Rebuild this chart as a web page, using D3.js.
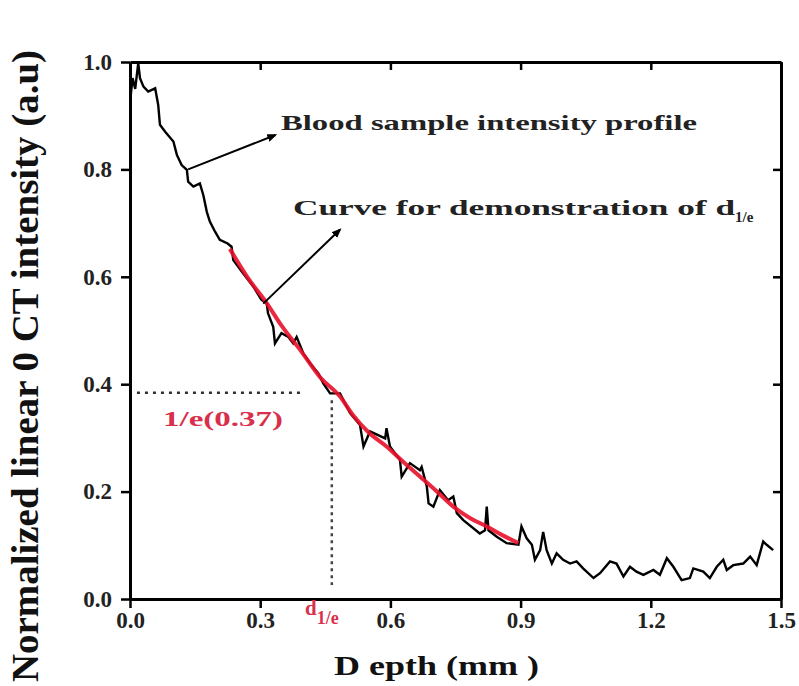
<!DOCTYPE html>
<html>
<head>
<meta charset="utf-8">
<script src="https://cdn.jsdelivr.net/npm/d3@7"></script>
<style>
  html, body { margin: 0; padding: 0; background: #fff; }
  svg { display: block; }
  text { font-family: "Liberation Serif", "Times New Roman", serif; font-weight: bold; }
</style>
</head>
<body>
<svg id="chart" width="799" height="686"></svg>
<script>
// ---- data ----
const profileDepth = [0.002,0.006,0.012,0.019,0.023,0.031,0.042,0.058,0.065,0.069,0.081,0.100,0.108,0.119,0.131,0.134,0.146,0.161,0.169,0.177,0.184,0.196,0.207,0.225,0.234,0.238,0.261,0.284,0.303,0.315,0.318,0.330,0.334,0.349,0.365,0.376,0.384,0.399,0.415,0.434,0.445,0.461,0.484,0.507,0.530,0.538,0.553,0.588,0.591,0.599,0.622,0.626,0.645,0.668,0.672,0.684,0.688,0.699,0.714,0.733,0.745,0.753,0.768,0.806,0.818,0.822,0.826,0.845,0.868,0.895,0.902,0.914,0.926,0.933,0.945,0.952,0.960,0.972,0.983,0.998,1.014,1.029,1.044,1.068,1.083,1.106,1.121,1.137,1.152,1.167,1.183,1.206,1.221,1.237,1.252,1.271,1.290,1.298,1.321,1.336,1.352,1.367,1.375,1.390,1.413,1.429,1.444,1.459,1.467,1.482];
const profileIntensity = [0.940,0.970,0.950,0.998,0.970,0.954,0.945,0.951,0.920,0.883,0.870,0.852,0.827,0.808,0.799,0.777,0.768,0.774,0.752,0.721,0.703,0.684,0.669,0.662,0.656,0.631,0.606,0.582,0.557,0.551,0.532,0.507,0.476,0.495,0.488,0.476,0.488,0.458,0.439,0.420,0.402,0.383,0.383,0.346,0.324,0.284,0.312,0.299,0.318,0.284,0.259,0.228,0.253,0.240,0.246,0.209,0.178,0.172,0.203,0.184,0.191,0.160,0.147,0.122,0.128,0.172,0.128,0.116,0.104,0.101,0.135,0.113,0.101,0.073,0.091,0.125,0.091,0.066,0.085,0.073,0.066,0.070,0.057,0.039,0.048,0.070,0.066,0.042,0.060,0.051,0.045,0.054,0.045,0.076,0.060,0.035,0.039,0.057,0.051,0.039,0.060,0.073,0.054,0.063,0.066,0.079,0.063,0.107,0.101,0.091];

const fitDepth = [0.230,0.270,0.315,0.350,0.392,0.438,0.484,0.514,0.550,0.591,0.630,0.668,0.710,0.745,0.785,0.822,0.860,0.895];
const fitIntensity = [0.652,0.600,0.551,0.508,0.464,0.413,0.377,0.342,0.310,0.284,0.255,0.228,0.198,0.172,0.150,0.135,0.118,0.104];

const xTicks = [0.0, 0.3, 0.6, 0.9, 1.2, 1.5];
const yTicks = [0.0, 0.2, 0.4, 0.6, 0.8, 1.0];

const markerY = 0.384;          // level of the 1/e dotted line
const markerX = 0.465;          // d_1/e depth
const hLineX = [0.016, 0.40];   // extent of horizontal dotted line
const vLineY = [0.026, 0.37];   // extent of vertical dotted line

// ---- layout ----
const svg = d3.select("#chart");
const L = 130, R = 781, T = 62, B = 599;
const x = d3.scaleLinear().domain([0, 1.5]).range([L, R]);
const y = d3.scaleLinear().domain([0, 1.0]).range([B, T]);
const fmt = d3.format(".1f");

// axes
const axisStyle = g => {
  g.select(".domain").attr("stroke", "#000").attr("stroke-width", 3);
  g.selectAll(".tick line").attr("stroke", "#000").attr("stroke-width", 2.5);
};
svg.append("g").attr("transform", `translate(0,${B})`)
  .call(d3.axisBottom(x).tickValues(xTicks).tickFormat(fmt).tickSize(9).tickSizeOuter(0).tickPadding(4))
  .call(axisStyle)
  .call(g => g.selectAll("text").attr("font-size", 23).attr("fill", "#222").attr("dy", "0.68em"));
svg.append("g").attr("transform", `translate(${L},0)`)
  .call(d3.axisLeft(y).tickValues(yTicks).tickFormat(fmt).tickSize(9).tickSizeOuter(0).tickPadding(9))
  .call(axisStyle)
  .call(g => g.selectAll("text").attr("font-size", 23).attr("fill", "#222"));
svg.append("g").attr("transform", `translate(0,${T})`)
  .call(d3.axisTop(x).tickValues(xTicks).tickFormat("").tickSize(-8).tickSizeOuter(0))
  .call(axisStyle);
svg.append("g").attr("transform", `translate(${R},0)`)
  .call(d3.axisRight(y).tickValues(yTicks).tickFormat("").tickSize(-8).tickSizeOuter(0))
  .call(axisStyle);

// dotted guide lines
svg.append("line")
  .attr("x1", x(hLineX[0])).attr("x2", x(hLineX[1]))
  .attr("y1", y(markerY)).attr("y2", y(markerY))
  .attr("stroke", "#333").attr("stroke-width", 2.5).attr("stroke-dasharray", "3,5");
svg.append("line")
  .attr("x1", x(markerX)).attr("x2", x(markerX))
  .attr("y1", y(vLineY[1])).attr("y2", y(vLineY[0]))
  .attr("stroke", "#444").attr("stroke-width", 2.5).attr("stroke-dasharray", "3,4");

// curves
const line = d3.line().x(d => x(d[0])).y(d => y(d[1]));
svg.append("path")
  .datum(profileDepth.map((d, i) => [d, profileIntensity[i]]))
  .attr("d", line).attr("fill", "none").attr("stroke", "#000").attr("stroke-width", 2.4)
  .attr("stroke-linejoin", "miter");
svg.append("path")
  .datum(fitDepth.map((d, i) => [d, fitIntensity[i]]))
  .attr("d", line.curve(d3.curveMonotoneX)).attr("fill", "none").attr("stroke", "#e8102a").attr("stroke-width", 4)
  .attr("opacity", 0.9);

// arrows
const defs = svg.append("defs");
defs.append("marker").attr("id", "ah").attr("viewBox", "0 0 10 10")
  .attr("refX", 8).attr("refY", 5).attr("markerWidth", 5).attr("markerHeight", 5)
  .attr("orient", "auto")
  .append("path").attr("d", "M0,1 L10,5 L0,9 z").attr("fill", "#000");
svg.append("line").attr("x1", x(0.134)).attr("y1", y(0.8)).attr("x2", x(0.335)).attr("y2", y(0.864))
  .attr("stroke", "#000").attr("stroke-width", 2).attr("marker-end", "url(#ah)");
svg.append("line").attr("x1", x(0.307)).attr("y1", y(0.55)).attr("x2", x(0.484)).attr("y2", y(0.688))
  .attr("stroke", "#000").attr("stroke-width", 2).attr("marker-end", "url(#ah)");

// annotations
svg.append("text").attr("x", 281).attr("y", 130).attr("font-size", 22).attr("fill", "#222")
  .attr("textLength", 416).attr("lengthAdjust", "spacingAndGlyphs")
  .text("Blood sample intensity profile");
const t2 = svg.append("text").attr("x", 293).attr("y", 215).attr("font-size", 22).attr("fill", "#222");
t2.append("tspan").attr("textLength", 442).attr("lengthAdjust", "spacingAndGlyphs").text("Curve for demonstration of d");
t2.append("tspan").attr("font-size", 15).attr("dy", 7).text("1/e");

svg.append("text").attr("x", 163).attr("y", 426).attr("font-size", 22).attr("fill", "#d8304c")
  .attr("textLength", 120).attr("lengthAdjust", "spacingAndGlyphs")
  .text("1/e(0.37)");
const t3 = svg.append("text").attr("x", 305).attr("y", 615).attr("font-size", 21).attr("fill", "#d8304c");
t3.append("tspan").text("d");
t3.append("tspan").attr("font-size", 18).attr("dy", 9).text("1/e");

// axis titles
svg.append("text").attr("x", 334).attr("y", 675)
  .attr("font-size", 27).attr("fill", "#111")
  .attr("textLength", 205).attr("lengthAdjust", "spacingAndGlyphs")
  .text("D epth (mm )");
svg.append("text")
  .attr("transform", `translate(38,${366}) rotate(-90)`)
  .attr("text-anchor", "middle").attr("font-size", 38).attr("fill", "#111")
  .attr("textLength", 632).attr("lengthAdjust", "spacingAndGlyphs")
  .text("Normalized linear 0 CT intensity (a.u)");
</script>
</body>
</html>
